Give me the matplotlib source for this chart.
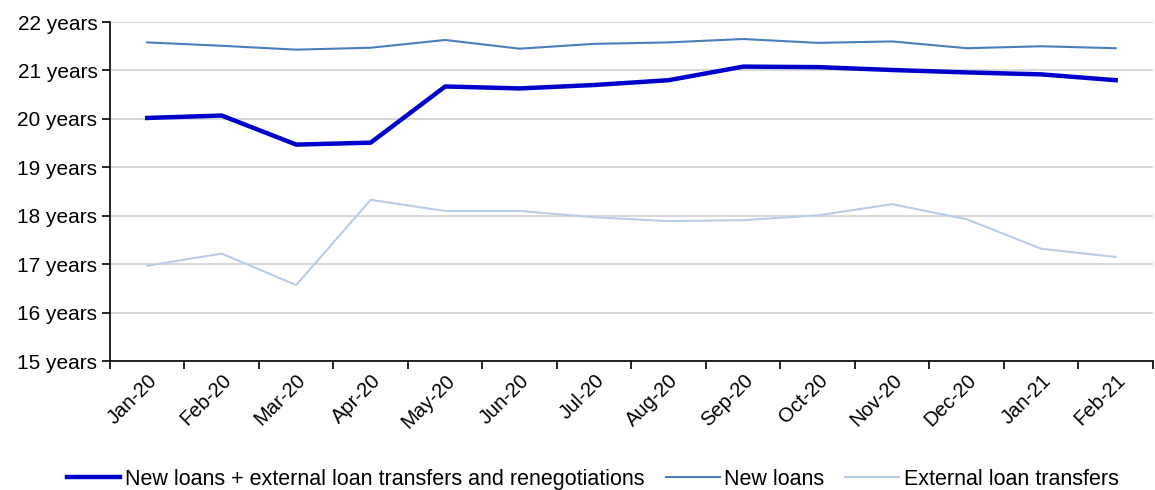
import numpy as np
import matplotlib
matplotlib.use('Agg')
import matplotlib.pyplot as plt

plt.rcParams['font.family'] = ['Liberation Sans', 'DejaVu Sans']

# ── data (average loan term, years) ───────────────────────────
months = ['Jan-20', 'Feb-20', 'Mar-20', 'Apr-20', 'May-20', 'Jun-20', 'Jul-20',
          'Aug-20', 'Sep-20', 'Oct-20', 'Nov-20', 'Dec-20', 'Jan-21', 'Feb-21']
total_loans = [20.02, 20.07, 19.47, 19.51, 20.67, 20.63, 20.70,
               20.80, 21.08, 21.07, 21.01, 20.96, 20.92, 20.80]
new_loans = [21.58, 21.51, 21.43, 21.47, 21.63, 21.45, 21.55,
             21.58, 21.65, 21.57, 21.60, 21.46, 21.50, 21.46]
transfers = [16.97, 17.22, 16.57, 18.33, 18.10, 18.10, 17.97,
             17.89, 17.91, 18.01, 18.24, 17.93, 17.32, 17.15]
yticks = [15, 16, 17, 18, 19, 20, 21, 22]

# ── figure ────────────────────────────────────────────────────
fig = plt.figure(figsize=(11.55, 4.9), dpi=100)
ax = fig.add_axes([0.0952, 0.263, 0.903, 0.692])

x = np.arange(len(months))
ax.plot(x, total_loans, color='#0000cc', lw=3.2, zorder=4,
        label='New loans + external loan transfers and renegotiations')
ax.plot(x, new_loans, color='#4a7ebb', lw=1.5, zorder=3, label='New loans')
ax.plot(x, transfers, color='#b9cde5', lw=1.5, zorder=3,
        label='External loan transfers')

ax.set_xlim(-0.5, len(months) - 0.5)
ax.set_ylim(15, 22)
ax.set_yticks(yticks)
ax.set_yticklabels([f'{v} years' for v in yticks], fontsize=15)
ax.yaxis.grid(True, color='#d9d9d9', lw=1.5)
ax.set_axisbelow(True)

# category labels centred, tick marks on the boundaries
ax.set_xticks(x)
ax.set_xticklabels(months, fontsize=14.5, rotation=45, ha='right',
                   rotation_mode='anchor')
ax.tick_params(axis='x', which='major', length=0, pad=7)
ax.set_xticks(np.arange(-0.5, len(months)), minor=True)
ax.tick_params(axis='x', which='minor', length=6, width=1.2, color='black')
ax.tick_params(axis='y', length=6, width=1.2, color='black', pad=3)

for side in ['top', 'right']:
    ax.spines[side].set_visible(False)
for side in ['left', 'bottom']:
    ax.spines[side].set_linewidth(1.2)
    ax.spines[side].set_color('black')

fig.legend(loc='center', bbox_to_anchor=(0.513, 1 - 479 / 490), ncol=3,
           frameon=False, fontsize=15.5, handlelength=2.5, handletextpad=0.2,
           columnspacing=1.0)

fig.savefig('out.png', dpi=100)
